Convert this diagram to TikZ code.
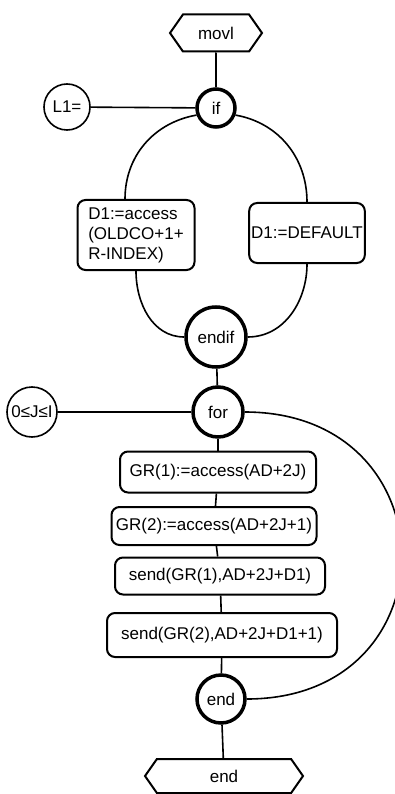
\documentclass[tikz,border=0pt]{standalone}
\usepackage{fontspec}
\setmainfont{Liberation Sans}
\usepackage{tikz}
\usetikzlibrary{positioning, shapes, shapes.symbols, calc}

\begin{document}
\begin{tikzpicture}[x=1pt, y=-1pt,
    font=\fontsize{17}{20}\selectfont,
    ends/.style={signal, signal to=west and east, signal pointer angle=110, draw, line width=2pt, inner sep=0pt},
    ctrl/.style={circle, draw, line width=3.5pt, inner sep=0pt},
    cond/.style={circle, draw, line width=1.6pt, inner sep=0pt},
    act/.style={rectangle, rounded corners=8pt, draw, line width=2pt, inner sep=2pt},
    link/.style={line width=1.6pt}]
      \useasboundingbox (0,0) rectangle (395,794);
      \node[ends, minimum width=92pt, minimum height=37pt] (movl) at (216,33) {movl};
      \node[ctrl, minimum size=38pt] (if) at (216,108) {if};
      \node[cond, minimum size=46pt] (lone) at (67,107) {L1=};
      \node[act, minimum width=117pt, minimum height=70pt, align=left] (acc) at (136,235) {D1:=access\\(OLDCO+1+\\R-INDEX)};
      \node[act, minimum width=115pt, minimum height=60pt] (dflt) at (307,233) {D1:=DEFAULT};
      \node[ctrl, minimum size=60pt] (endif) at (216,337) {endif};
      \node[ctrl, minimum size=50pt] (for) at (218,412) {for};
      \node[cond, minimum size=50pt] (range) at (32,412) {0≤J≤I};
      \node[act, minimum width=196pt, minimum height=41pt] (grone) at (218,472) {GR(1):=access(AD+2J)};
      \node[act, minimum width=205pt, minimum height=38pt] (grtwo) at (214,526) {GR(2):=access(AD+2J+1)};
      \node[act, minimum width=210pt, minimum height=37pt] (sendone) at (220,576) {send(GR(1),AD+2J+D1)};
      \node[act, minimum width=230pt, minimum height=44pt] (sendtwo) at (222,635) {send(GR(2),AD+2J+D1+1)};
      \node[ctrl, minimum size=48pt] (end) at (221,699) {end};
      \node[ends, minimum width=158pt, minimum height=34pt] (stop) at (224,776) {end};
      % straight links
      \draw[link] (movl) -- (if);
      \draw[link] (lone) -- (if);
      \draw[link] (endif) -- (for);
      \draw[link] (range) -- (for);
      \draw[link] (for) -- (grone);
      \draw[link] (grone) -- (grtwo);
      \draw[link] (grtwo) -- (sendone);
      \draw[link] (sendone) -- (sendtwo);
      \draw[link] (sendtwo) -- (end);
      \draw[link] (end) -- (stop);
      % branches
      \draw[link] (if.200) to[out=190, in=90] ([xshift=-11pt]acc.north);
      \draw[link] (if.-20) to[out=-10, in=90] (dflt.north);
      \draw[link] (acc.south) to[out=-90, in=180] (endif.west);
      \draw[link] (dflt.south) to[out=-90, in=0] (endif.east);
      % loop back
      \draw[link] (for.east) to[out=0, in=0, looseness=1.85] (end.east);
\end{tikzpicture}
\end{document}
